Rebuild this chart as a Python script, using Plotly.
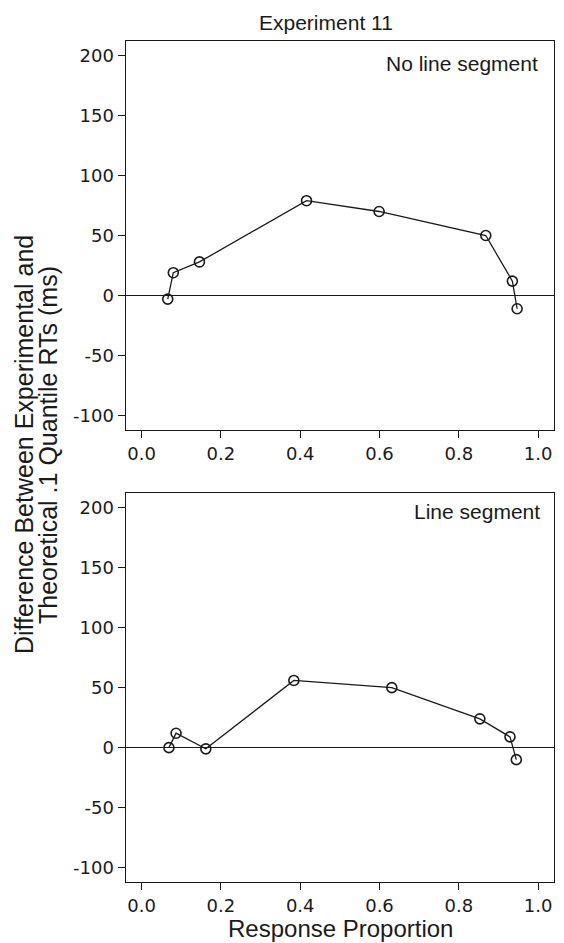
import plotly.graph_objects as go

# ---- data ----
x_no_segment = [0.066, 0.080, 0.146, 0.416, 0.599, 0.868, 0.935, 0.947]
y_no_segment = [-3, 19, 28, 79, 70, 50, 12, -11]
x_segment = [0.069, 0.087, 0.162, 0.384, 0.631, 0.853, 0.929, 0.945]
y_segment = [0, 12, -1, 56, 50, 24, 9, -10]

x_tickvals = [0.0, 0.2, 0.4, 0.6, 0.8, 1.0]
x_ticktext = ["0.0", "0.2", "0.4", "0.6", "0.8", "1.0"]
y_tickvals = [-100, -50, 0, 50, 100, 150, 200]
y_ticktext = ["-100", "-50", "0", "50", "100", "150", "200"]

title_text = "Experiment 11"
panel_labels = ["No line segment", "Line segment"]
x_title = "Response Proportion"
y_title_lines = ["Difference Between Experimental and", "Theoretical .1 Quantile RTs (ms)"]

W, H = 564, 943
FONT = "Arial, Liberation Sans, sans-serif"
TICKFONT = "DejaVu Sans, sans-serif"
INK = "#1a1a1a"

fig = go.Figure()
marker = dict(symbol="circle-open", size=10, color=INK, line=dict(width=1.6, color=INK))
fig.add_trace(go.Scatter(x=x_no_segment, y=y_no_segment, mode="lines+markers",
                         line=dict(color=INK, width=1.3), marker=marker,
                         xaxis="x", yaxis="y", showlegend=False))
fig.add_trace(go.Scatter(x=x_segment, y=y_segment, mode="lines+markers",
                         line=dict(color=INK, width=1.3), marker=marker,
                         xaxis="x2", yaxis="y2", showlegend=False))

def xax(anchor):
    return dict(domain=[125.7 / W, 554 / W], range=[-0.04, 1.04], anchor=anchor,
                tickvals=x_tickvals, ticktext=x_ticktext, ticks="outside", ticklen=7,
                tickwidth=1.2, tickcolor=INK, showline=True, linecolor=INK, linewidth=1.4,
                mirror=True, showgrid=False, zeroline=False,
                tickfont=dict(family=TICKFONT, size=18, color=INK))

def yax(anchor, dom):
    return dict(domain=dom, range=[-112, 212], anchor=anchor,
                tickvals=y_tickvals, ticktext=y_ticktext, ticks="outside", ticklen=7,
                tickwidth=1.2, tickcolor=INK, showline=True, linecolor=INK, linewidth=1.4,
                mirror=True, showgrid=False, zeroline=True, zerolinecolor=INK,
                zerolinewidth=1.3, tickfont=dict(family=TICKFONT, size=18, color=INK))

fig.update_layout(
    width=W, height=H, margin=dict(l=0, r=0, t=0, b=0),
    paper_bgcolor="white", plot_bgcolor="white",
    xaxis=xax("y"), yaxis=yax("x", [1 - 430 / H, 1 - 41 / H]),
    xaxis2=xax("y2"), yaxis2=yax("x2", [1 - 882 / H, 1 - 493.3 / H]),
)

ann = []
ann.append(dict(text=title_text, x=326 / W, y=1 - 22.5 / H, xref="paper", yref="paper",
                xanchor="center", yanchor="middle", showarrow=False,
                font=dict(family=FONT, size=21, color=INK)))
ann.append(dict(text=panel_labels[0], x=539.5 / W, y=1 - 64 / H, xref="paper", yref="paper",
                xanchor="right", yanchor="middle", showarrow=False,
                font=dict(family=FONT, size=21, color=INK)))
ann.append(dict(text=panel_labels[1], x=541.5 / W, y=1 - 511.7 / H, xref="paper", yref="paper",
                xanchor="right", yanchor="middle", showarrow=False,
                font=dict(family=FONT, size=21, color=INK)))
ann.append(dict(text=x_title, x=340 / W, y=1 - 928.3 / H, xref="paper", yref="paper",
                xanchor="center", yanchor="middle", showarrow=False,
                font=dict(family=FONT, size=24, color=INK)))
for i, (line, xc) in enumerate(zip(y_title_lines, [24, 48])):
    ann.append(dict(text=line, x=xc / W, y=1 - 445 / H, xref="paper", yref="paper",
                    xanchor="center", yanchor="middle", textangle=-90, showarrow=False,
                    font=dict(family=FONT, size=25, color=INK)))
fig.update_layout(annotations=ann)

fig.write_html("out.html")
